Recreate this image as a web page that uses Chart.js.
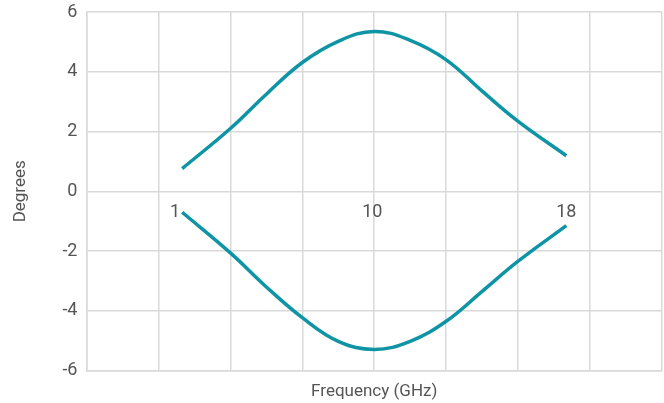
<!DOCTYPE html>
<html>
<head>
<meta charset="utf-8">
<script src="https://cdn.jsdelivr.net/npm/chart.js@4/dist/chart.umd.min.js"></script>
<style>
  html, body { margin: 0; padding: 0; background: #fff; }
  #wrap { width: 664px; height: 403px; }
</style>
</head>
<body>
<div id="wrap"><canvas id="phaseChart"></canvas></div>
<script>
// position along the frequency axis (grid units)
const positions = [1.33, 2.0, 2.5, 3.0, 3.5, 4.0, 4.5, 5.0, 5.5, 6.0, 6.67];
const upperDeg = [0.76, 2.10, 3.25, 4.31, 5.02, 5.35, 5.05, 4.40, 3.35, 2.34, 1.19];
const lowerDeg = [-0.70, -2.06, -3.2, -4.23, -5.02, -5.29, -5.02, -4.35, -3.35, -2.34, -1.15];

// frequency labels (GHz) and where they sit
const freqLabels = ['1', '10', '18'];
const freqLabelPos = [1.33, 4.0, 6.67];

const yTicks = [-6, -4, -2, 0, 2, 4, 6];

const teal = '#0f94a6';
const gridColor = '#d9d9d9';
const textColor = '#555555';

function toPoints(xs, ys) {
  return xs.map((x, i) => ({ x: x, y: ys[i] }));
}

// draws the 1 / 10 / 18 markers just under the zero line
const freqLabelPlugin = {
  id: 'freqLabels',
  afterDatasetsDraw(chart) {
    const ctx = chart.ctx;
    const xs = chart.scales.x;
    const ys = chart.scales.y;
    ctx.save();
    ctx.font = '18px Roboto';
    ctx.fillStyle = textColor;
    ctx.textBaseline = 'middle';
    freqLabels.forEach((lbl, i) => {
      const px = xs.getPixelForValue(freqLabelPos[i]);
      const py = ys.getPixelForValue(0) + 21;
      if (i === 0) {
        ctx.textAlign = 'right';
        ctx.fillText(lbl, px - 2, py);
      } else {
        ctx.textAlign = 'center';
        ctx.fillText(lbl, px - (i === 1 ? 2 : 0), py);
      }
    });
    ctx.restore();
  }
};

new Chart(document.getElementById('phaseChart').getContext('2d'), {
  type: 'line',
  data: {
    datasets: [
      {
        label: 'Upper',
        data: toPoints(positions, upperDeg),
        borderColor: teal,
        borderWidth: 3.5,
        pointRadius: 0,
        tension: 0.4,
        fill: false
      },
      {
        label: 'Lower',
        data: toPoints(positions, lowerDeg),
        borderColor: teal,
        borderWidth: 3.5,
        pointRadius: 0,
        tension: 0.4,
        fill: false
      }
    ]
  },
  options: {
    responsive: true,
    maintainAspectRatio: false,
    animation: false,
    layout: { padding: { top: 12, right: 2, left: 11, bottom: 1 } },
    plugins: {
      legend: { display: false },
      tooltip: { enabled: false }
    },
    scales: {
      x: {
        type: 'linear',
        min: 0,
        max: 8,
        ticks: { display: false, stepSize: 1 },
        grid: { color: gridColor, lineWidth: 1.5, drawTicks: false },
        border: { color: gridColor, width: 1.5 },
        title: {
          display: true,
          text: 'Frequency (GHz)',
          color: textColor,
          font: { family: 'Roboto', size: 17 },
          padding: { top: 11, bottom: 0 }
        }
      },
      y: {
        type: 'linear',
        min: -6,
        max: 6,
        afterBuildTicks(axis) {
          axis.ticks = yTicks.map(v => ({ value: v }));
        },
        afterFit(axis) {
          // let the plot start right at the top padding
          axis.paddingTop = 0;
        },
        ticks: {
          color: textColor,
          font: { family: 'Roboto', size: 18 },
          padding: 9
        },
        grid: { color: gridColor, lineWidth: 1.5, drawTicks: false },
        border: { color: gridColor, width: 1.5 },
        title: {
          display: true,
          text: 'Degrees',
          color: textColor,
          font: { family: 'Roboto', size: 17 },
          padding: { top: 0, bottom: 22 }
        }
      }
    }
  },
  plugins: [freqLabelPlugin]
});
</script>
</body>
</html>
